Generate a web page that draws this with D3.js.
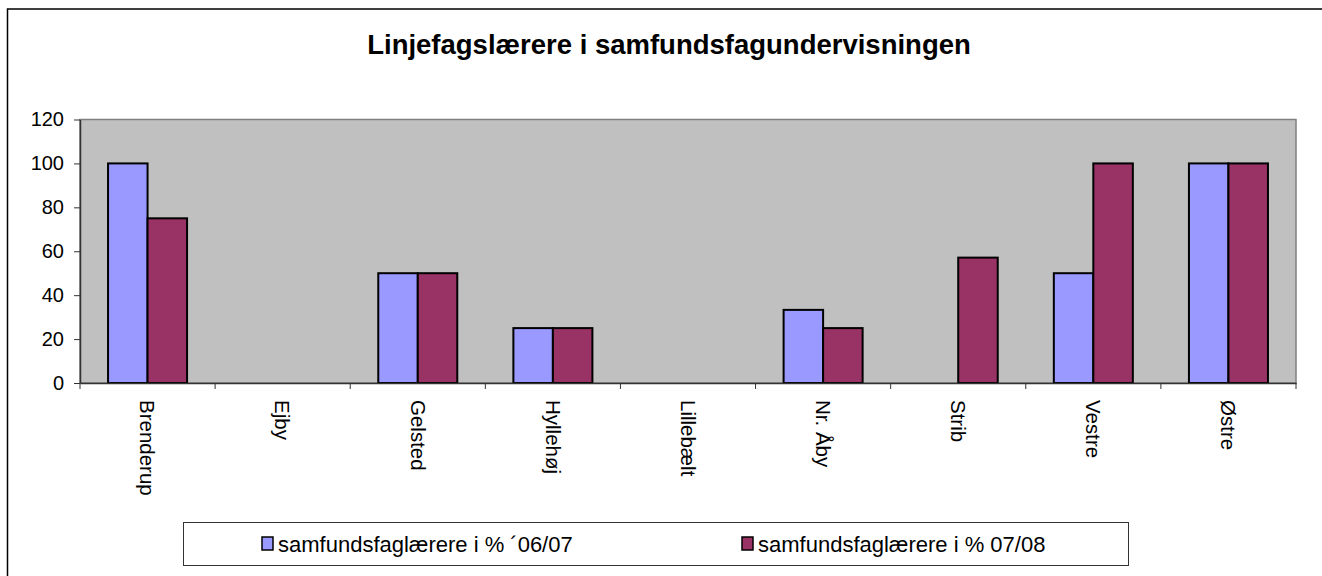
<!DOCTYPE html>
<html>
<head>
<meta charset="utf-8">
<script src="https://cdn.jsdelivr.net/npm/d3@7"></script>
<style>
  body { margin: 0; background: #fff; }
  svg { display: block; font-family: "Liberation Sans", Arial, sans-serif; }
</style>
</head>
<body>
<div id="chart"></div>
<script>
const categories = ["Brenderup", "Ejby", "Gelsted", "Hyllehøj", "Lillebælt", "Nr. Åby", "Strib", "Vestre", "Østre"];
const series0607 = [100, null, 50, 25, null, 33.3, null, 50, 100];
const series0708 = [75, null, 50, 25, null, 25, 57.1, 100, 100];
const seriesNames = ["samfundsfaglærere i % ´06/07", "samfundsfaglærere i % 07/08"];
const seriesColors = ["#9999FF", "#993366"];
const yTicks = [0, 20, 40, 60, 80, 100, 120];

window.onload = function() {
    const W = 1322, H = 576;
    const margin = { top: 119.5, right: 26, bottom: 193, left: 80 };
    const width = W - margin.left - margin.right;
    const height = H - margin.top - margin.bottom;

    const svg = d3.select("#chart")
        .append("svg")
        .attr("width", W)
        .attr("height", H);

    // outer chart border (runs off the right and bottom edge)
    svg.append("rect")
        .attr("x", 7.5).attr("y", 9)
        .attr("width", W + 20).attr("height", H + 20)
        .attr("fill", "none")
        .attr("stroke", "#000")
        .attr("stroke-width", 1.5);

    // Title
    svg.append("text")
        .attr("x", 669)
        .attr("y", 54)
        .attr("text-anchor", "middle")
        .style("font-size", "27.5px")
        .style("font-weight", "bold")
        .text("Linjefagslærere i samfundsfagundervisningen");

    const g = svg.append("g")
        .attr("transform", `translate(${margin.left},${margin.top})`);

    const x0 = d3.scaleBand()
        .domain(categories)
        .range([0, width])
        .padding(0);

    const x1 = d3.scaleBand()
        .domain([0, 1])
        .range([0, x0.bandwidth()])
        .paddingInner(0)
        .paddingOuter(0.71);

    const y = d3.scaleLinear()
        .domain([0, 120])
        .range([height, 0]);

    // plot area
    g.append("rect")
        .attr("width", width)
        .attr("height", height)
        .attr("fill", "#C0C0C0")
        .attr("stroke", "#808080")
        .attr("stroke-width", 1.5);

    const rows = categories.map((c, i) => ({ cat: c, vals: [series0607[i], series0708[i]] }));

    const groups = g.selectAll(".grp")
        .data(rows)
        .enter().append("g")
        .attr("class", "grp")
        .attr("transform", d => `translate(${x0(d.cat)},0)`);

    groups.selectAll("rect")
        .data(d => d.vals.map((v, k) => ({ k, v })).filter(e => e.v != null))
        .enter().append("rect")
        .attr("x", d => x1(d.k))
        .attr("y", d => y(d.v))
        .attr("width", x1.bandwidth())
        .attr("height", d => y(0) - y(d.v))
        .attr("fill", d => seriesColors[d.k])
        .attr("stroke", "#000")
        .attr("stroke-width", 2);

    // Y axis
    const yAxis = g.append("g")
        .call(d3.axisLeft(y).tickValues(yTicks).tickSize(6).tickPadding(10).tickSizeOuter(0));
    yAxis.select(".domain").attr("stroke", "#333").attr("stroke-width", 1.5);
    yAxis.selectAll(".tick line").attr("stroke", "#333");
    yAxis.selectAll("text")
        .style("font-size", "20px")
        .style("font-family", "Liberation Sans, Arial, sans-serif")
        .attr("fill", "#000");

    // X axis
    const xAxis = g.append("g")
        .attr("transform", `translate(0,${height})`)
        .call(d3.axisBottom(x0).tickSize(0).tickFormat(""));
    xAxis.select(".domain").attr("stroke", "#333").attr("stroke-width", 1.5);

    // tick marks on band edges
    xAxis.selectAll(".edge")
        .data(d3.range(categories.length + 1))
        .enter().append("line")
        .attr("class", "edge")
        .attr("x1", i => i * x0.step())
        .attr("x2", i => i * x0.step())
        .attr("y1", 0)
        .attr("y2", 6)
        .attr("stroke", "#333");

    // rotated category labels
    xAxis.selectAll(".lbl")
        .data(categories)
        .enter().append("text")
        .attr("class", "lbl")
        .attr("transform", d => `translate(${x0(d) + x0.bandwidth() / 2},17) rotate(90)`)
        .attr("dy", "0.35em")
        .attr("text-anchor", "start")
        .style("font-size", "20.5px")
        .attr("fill", "#000")
        .text(d => d);

    // Legend
    const legend = svg.append("g");
    legend.append("rect")
        .attr("x", 183.5).attr("y", 522.5)
        .attr("width", 945).attr("height", 43)
        .attr("fill", "#fff")
        .attr("stroke", "#333")
        .attr("stroke-width", 1);

    const legendX = [262, 742];
    const items = legend.selectAll(".legend-item")
        .data(seriesNames)
        .enter().append("g")
        .attr("class", "legend-item")
        .attr("transform", (d, i) => `translate(${legendX[i]}, 537)`);

    items.append("rect")
        .attr("width", 11)
        .attr("height", 13)
        .attr("fill", (d, i) => seriesColors[i])
        .attr("stroke", "#000")
        .attr("stroke-width", 1.5);

    items.append("text")
        .attr("x", 16)
        .attr("y", 15)
        .style("font-size", "22px")
        .text(d => d);
};
</script>
</body>
</html>
